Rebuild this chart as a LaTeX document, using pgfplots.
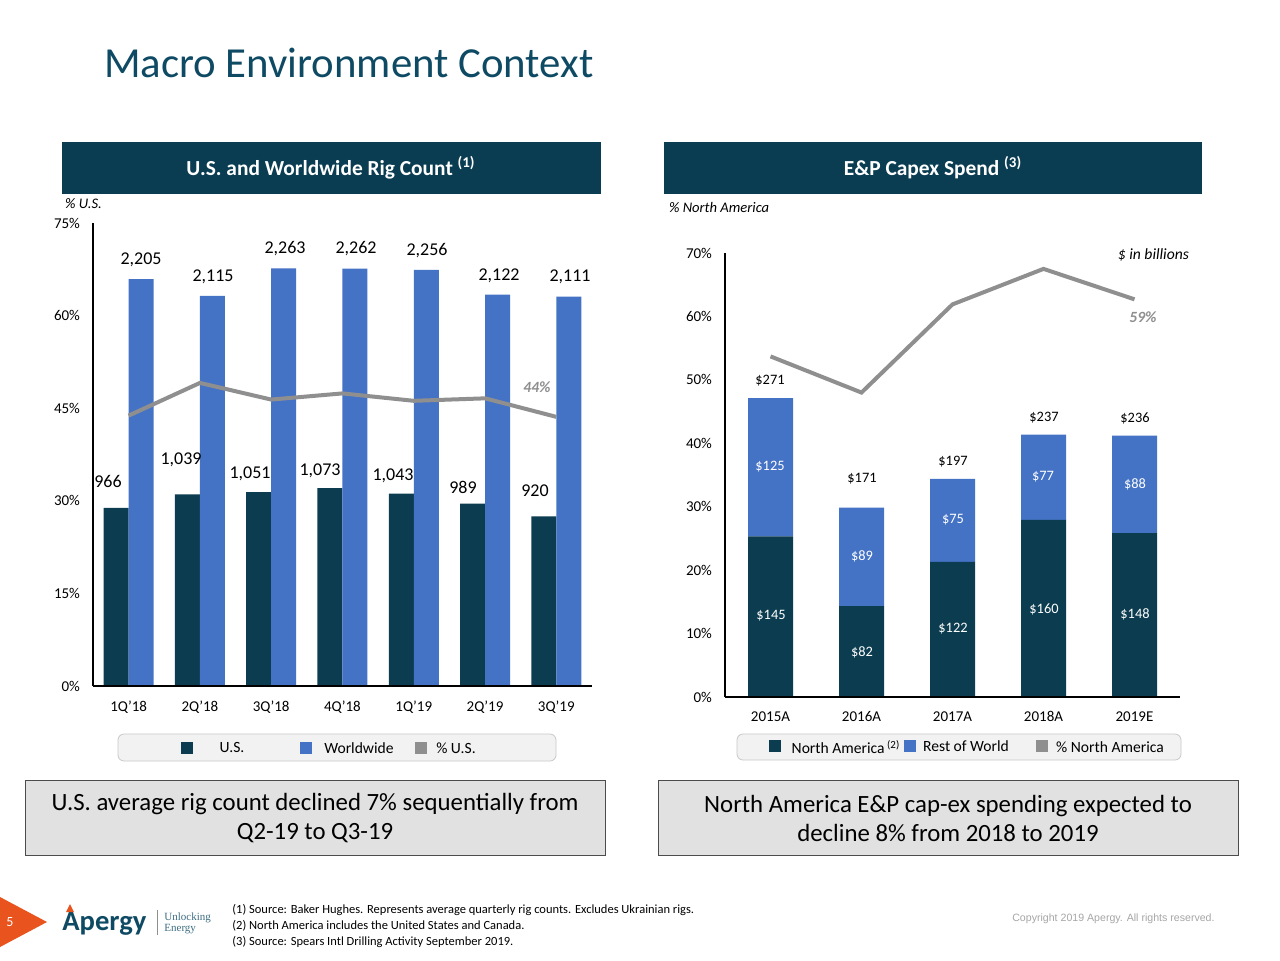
\documentclass[border=0pt]{standalone}
\usepackage{pgfplots}
\pgfplotsset{compat=1.18}
\usepackage{fontspec}
\setmainfont{Carlito}
\newfontfamily\arial{Liberation Sans}
\newfontfamily\serifl{Liberation Serif}
\definecolor{navy}{HTML}{0C3C50}
\definecolor{hdr}{HTML}{0B3D52}
\definecolor{wblue}{HTML}{4472C4}
\definecolor{lgray}{HTML}{8F8F8F}
\definecolor{ttl}{HTML}{0E4A63}
\definecolor{orng}{HTML}{E8531E}
\definecolor{boxgray}{HTML}{E1E1E1}
\definecolor{legfill}{HTML}{F2F2F2}
\definecolor{legbord}{HTML}{C8C8C8}
\definecolor{cpy}{HTML}{A6A6A6}
\begin{document}
\begin{tikzpicture}
\path[use as bounding box, fill=white] (0,0) rectangle (640pt,-480pt);

% ---------- LEFT CHART: bars ----------
\begin{axis}[
  at={(46.5pt,-343pt)}, anchor=south west, scale only axis,
  width=249.5pt, height=231.5pt,
  xmin=-0.5, xmax=6.5, ymin=0, ymax=2509.5,
  axis lines=none, ybar=0pt, bar width=12.5pt, clip=false,
]
\addplot[fill=navy, draw=none] coordinates {(0,966)(1,1039)(2,1051)(3,1073)(4,1043)(5,989)(6,920)};
\addplot[fill=wblue, draw=none] coordinates {(0,2205)(1,2115)(2,2263)(3,2262)(4,2256)(5,2122)(6,2111)};
\end{axis}
% ---------- LEFT CHART: % line ----------
\begin{axis}[
  at={(46.5pt,-343pt)}, anchor=south west, scale only axis,
  width=249.5pt, height=231.5pt,
  xmin=-0.5, xmax=6.5, ymin=0, ymax=75,
  axis x line*=bottom, axis y line*=left,
  axis line style={black, line width=0.6pt, -},
  xtick={0,...,6}, xticklabels={1Q'18,2Q'18,3Q'18,4Q'18,1Q'19,2Q'19,3Q'19},
  ytick={0,15,30,45,60,75}, yticklabels={0\%,15\%,30\%,45\%,60\%,75\%},
  major tick length=0pt,
  tick label style={font=\fontsize{7.5}{9}\selectfont},
  yticklabel style={xshift=-3pt},
  xticklabel style={yshift=-1.5pt, text height=1.6ex, text depth=0.3ex},
  clip=false,
]
\addplot[lgray, line width=2pt, mark=none] coordinates {(0,43.8)(1,49.1)(2,46.4)(3,47.4)(4,46.2)(5,46.6)(6,43.6)};
\end{axis}

% ---------- RIGHT CHART: bars ----------
\begin{axis}[
  at={(362.5pt,-348.5pt)}, anchor=south west, scale only axis,
  width=227.5pt, height=222pt,
  xmin=-0.5, xmax=4.5, ymin=0, ymax=401,
  axis lines=none, ybar stacked, bar width=22.5pt, clip=false,
]
\addplot[fill=navy, draw=none] coordinates {(0,145)(1,82)(2,122)(3,160)(4,148)};
\addplot[fill=wblue, draw=none] coordinates {(0,125)(1,89)(2,75)(3,77)(4,88)};
\end{axis}
% ---------- RIGHT CHART: % line ----------
\begin{axis}[
  at={(362.5pt,-348.5pt)}, anchor=south west, scale only axis,
  width=227.5pt, height=222pt,
  xmin=-0.5, xmax=4.5, ymin=0, ymax=70,
  axis x line*=bottom, axis y line*=left,
  axis line style={black, line width=0.6pt, -},
  xtick={0,...,4}, xticklabels={2015A,2016A,2017A,2018A,2019E},
  ytick={0,10,...,70}, yticklabels={0\%,10\%,20\%,30\%,40\%,50\%,60\%,70\%},
  major tick length=0pt,
  tick label style={font=\fontsize{7.5}{9}\selectfont},
  yticklabel style={xshift=-3pt},
  xticklabel style={yshift=-1pt, text height=1.6ex, text depth=0.3ex},
  clip=false,
]
\addplot[lgray, line width=2pt, mark=none] coordinates {(0,53.7)(1,48.0)(2,61.9)(3,67.5)(4,62.7)};
\end{axis}

\begin{scope}[x=0.5pt,y=-0.5pt]
% title
\node[anchor=west, text=ttl, font=\fontsize{21.4}{25}\selectfont] at (97,63) {Macro Environment Context};
% headers
\fill[hdr] (62,142) rectangle (601,194);
\fill[hdr] (664,142) rectangle (1202,194);
\node[text=white, font=\bfseries\fontsize{10.7}{12}\selectfont] at (331,168) {U.S. and Worldwide Rig Count \textsuperscript{(1)}};
\node[text=white, font=\bfseries\fontsize{10.7}{12}\selectfont] at (933,168) {E\&P Capex Spend \textsuperscript{(3)}};
% axis notes
\node[anchor=west, font=\itshape\fontsize{7.3}{8}\selectfont] at (58,204) {\% U.S.};
\node[anchor=west, font=\itshape\fontsize{7.3}{8}\selectfont] at (662,207) {\% North America};
\node[anchor=east, font=\itshape\fontsize{7.8}{9}\selectfont] at (1196,255) {\$ in billions};
\node[text=lgray, font=\bfseries\itshape\fontsize{7.8}{9}\selectfont] at (537,387) {44\%};
\node[text=lgray, font=\bfseries\itshape\fontsize{7.8}{9}\selectfont] at (1143,317) {59\%};
% left data labels
\begin{scope}[every node/.style={font=\fontsize{9}{10}\selectfont}]
\node at (141,260) {2,205};
\node at (213,277) {2,115};
\node at (285,249) {2,263};
\node at (356,249) {2,262};
\node at (427,251) {2,256};
\node at (499,276) {2,122};
\node at (570,277) {2,111};
\node at (108,481) {966};
\node at (181,460) {1,039};
\node at (250,474) {1,051};
\node at (320,471) {1,073};
\node at (393,476) {1,043};
\node at (463,487) {989};
\node at (535,491) {920};
\end{scope}
% right data labels
\begin{scope}[every node/.style={font=\fontsize{7.2}{8}\selectfont}]
\node at (770,381) {\$271};
\node at (862,479) {\$171};
\node at (953,462) {\$197};
\node at (1044,418) {\$237};
\node at (1135,418) {\$236};
\node[text=white] at (770,467) {\$125};
\node[text=white] at (862,556) {\$89};
\node[text=white] at (953,520) {\$75};
\node[text=white] at (1043,477) {\$77};
\node[text=white] at (1135,484) {\$88};
\node[text=white] at (771,616) {\$145};
\node[text=white] at (862,652) {\$82};
\node[text=white] at (953,629) {\$122};
\node[text=white] at (1044,609) {\$160};
\node[text=white] at (1135,614) {\$148};
\end{scope}
% legends
\draw[legbord, fill=legfill, rounded corners=3pt] (118,734) rectangle (556,761);
\fill[navy] (181,742) rectangle (193,754);
\node[font=\fontsize{7.8}{9}\selectfont] at (232,747) {U.S.};
\fill[wblue] (300,742) rectangle (312,754);
\node[font=\fontsize{7.8}{9}\selectfont] at (359,748) {Worldwide};
\fill[lgray] (415,742) rectangle (427,754);
\node[font=\fontsize{7.8}{9}\selectfont] at (456,748) {\% U.S.};
\draw[legbord, fill=legfill, rounded corners=3pt] (737,734) rectangle (1181,760);
\fill[navy] (769,740) rectangle (781,752);
\node[font=\fontsize{7.8}{9}\selectfont] at (846,747) {North America\,\textsuperscript{(2)}};
\fill[wblue] (904,740) rectangle (916,752);
\node[font=\fontsize{7.8}{9}\selectfont] at (966,746) {Rest of World};
\fill[lgray] (1036,740) rectangle (1048,752);
\node[font=\fontsize{7.8}{9}\selectfont] at (1110,747) {\% North America};
% takeaway boxes
\draw[black!70, fill=boxgray, line width=0.5pt] (25,780) rectangle (605,855);
\draw[black!70, fill=boxgray, line width=0.5pt] (658,780) rectangle (1238,855);
\node[align=center, font=\fontsize{12.4}{14.5}\selectfont] at (315,818) {U.S. average rig count declined 7\% sequentially from\\Q2-19 to Q3-19};
\node[align=center, font=\fontsize{12.4}{14.5}\selectfont] at (948,818) {North America E\&P cap-ex spending expected to\\decline 8\% from 2018 to 2019};
% footer
\fill[orng] (0,897) -- (47,922) -- (0,947) -- cycle;
\node[text=white, font=\fontsize{7}{8}\selectfont] at (10,922) {5};
\node[anchor=west, text=ttl, font=\bfseries\fontsize{14.3}{16}\selectfont, inner sep=0pt] at (62,924) {Apergy};
\fill[orng] (66,912) -- (70,904) -- (74,912) -- cycle;
\draw[lgray, line width=0.5pt] (157,910) -- (157,935);
\node[anchor=west, align=left, text=ttl!80, font=\serifl\fontsize{5.5}{5.5}\selectfont, inner sep=0pt] at (164,923) {Unlocking\\Energy};
\node[anchor=west, align=left, font=\fontsize{6.25}{8}\selectfont, inner sep=0pt] at (232,926) {(1) Source: Baker Hughes. Represents average quarterly rig counts. Excludes Ukrainian rigs.\\(2) North America includes the United States and Canada.\\(3) Source: Spears Intl Drilling Activity September 2019.};
\node[anchor=east, text=cpy, font=\arial\fontsize{5.3}{6}\selectfont, inner sep=0pt] at (1215,919) {Copyright 2019 Apergy. All rights reserved.};
\end{scope}
\end{tikzpicture}
\end{document}
